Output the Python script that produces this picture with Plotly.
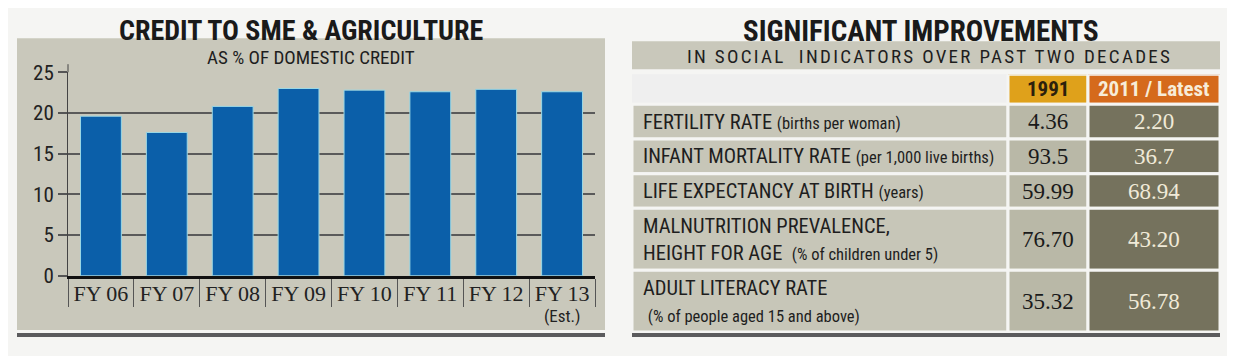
import plotly.graph_objects as go

# ---------------- data ----------------
fiscal_years = ["FY 06", "FY 07", "FY 08", "FY 09", "FY 10", "FY 11", "FY 12", "FY 13"]
credit_share = [19.6, 17.6, 20.8, 23.0, 22.8, 22.6, 22.9, 22.6]
estimated_note = ["", "", "", "", "", "", "", "(Est.)"]
y_ticks = [0, 5, 10, 15, 20, 25]

indicator_names = ["FERTILITY RATE", "INFANT MORTALITY RATE", "LIFE EXPECTANCY AT BIRTH",
                   "MALNUTRITION PREVALENCE,<br>HEIGHT FOR AGE ", "ADULT LITERACY RATE<br>"]
indicator_units = ["(births per woman)", "(per 1,000 live births)", "(years)",
                   "(% of children under 5)", "(% of people aged 15 and above)"]
values_1991 = [4.36, 93.5, 59.99, 76.70, 35.32]
values_latest = [2.20, 36.7, 68.94, 43.20, 56.78]
decimals = [2, 1, 2, 2, 2]
col_headers = ["", "1991", "2011 / Latest"]

# ---------------- styling ----------------
W, H = 1235, 356
COND = "Roboto Condensed"
SERIF = "Liberation Serif, DejaVu Serif, Times New Roman, serif"
BG = "#f5f5f3"
PANEL = "#c9c8bb"
DARK = "#5b5b5d"

# map target picture pixels to figure paper coordinates (measured page offset/scale)
def px_x(v):
    return (v - 8) / W

def px_y(v):
    return 1 - (v / 0.93 - 22.5) / H

fig = go.Figure()

fig.add_trace(go.Bar(
    x=fiscal_years, y=credit_share, width=0.62,
    marker=dict(color="#0b5fa9", line=dict(color="#9ad8e6", width=1)),
    xaxis="x", yaxis="y", hoverinfo="x+y",
))

# ---------------- table geometry (axis units) ----------------
col_widths = [376, 80, 132]
col_edges = [0]
for w in col_widths:
    col_edges.append(col_edges[-1] + w)
HEADER_H = 30
ROW_H = {1: 34.5, 2: 61.5}
row_lines = [n.count("<br>") + 1 for n in indicator_names]
row_edges = [HEADER_H]
for nl in row_lines:
    row_edges.append(row_edges[-1] + ROW_H[nl])
TOTAL_H = row_edges[-1]

fig.add_trace(go.Scatter(x=[0, col_edges[-1]], y=[0, TOTAL_H], mode="markers",
                         marker=dict(opacity=0), xaxis="x2", yaxis="y2", hoverinfo="skip"))

shapes = [
    dict(type="rect", xref="paper", yref="paper", x0=px_x(17), x1=px_x(605), y0=px_y(330), y1=px_y(39),
         fillcolor=PANEL, line=dict(width=0), layer="below"),
    dict(type="rect", xref="paper", yref="paper", x0=px_x(17), x1=px_x(605), y0=px_y(337), y1=px_y(333),
         fillcolor=DARK, line=dict(width=0), layer="below"),
    dict(type="rect", xref="paper", yref="paper", x0=px_x(632), x1=px_x(1220), y0=px_y(70), y1=px_y(42),
         fillcolor=PANEL, line=dict(width=0), layer="below"),
    dict(type="rect", xref="paper", yref="paper", x0=px_x(632), x1=px_x(1220), y0=px_y(337), y1=px_y(333),
         fillcolor=DARK, line=dict(width=0), layer="below"),
    # y axis line extends a little above the top gridline
    dict(type="line", xref="x domain", yref="paper", x0=0, x1=0, y0=px_y(73), y1=px_y(65),
         line=dict(color="#444", width=1)),
]

header_fill = [None, "#dfa11b", "#d56a1c"]
header_color = ["#000", "#2b200c", "#f7ecd8"]
cell_fill = ["#c7c6b8", "#b9b8a7", "#75725d"]

for j in range(3):
    if header_fill[j]:
        shapes.append(dict(type="rect", xref="x2", yref="y2", x0=col_edges[j], x1=col_edges[j + 1],
                           y0=0, y1=HEADER_H, fillcolor=header_fill[j], line=dict(color=BG, width=3),
                           layer="below"))
for i in range(len(indicator_names)):
    for j in range(3):
        shapes.append(dict(type="rect", xref="x2", yref="y2", x0=col_edges[j], x1=col_edges[j + 1],
                           y0=row_edges[i], y1=row_edges[i + 1], fillcolor=cell_fill[j],
                           line=dict(color=BG, width=3), layer="below"))

annotations = [
    dict(text="<b>CREDIT TO SME & AGRICULTURE</b>", x=px_x(301), y=1 - 11.5 / H, xref="paper", yref="paper",
         xanchor="center", yanchor="middle",
         showarrow=False, font=dict(family=COND, size=28, color="#1a1a1a")),
    dict(text="AS % OF DOMESTIC CREDIT", x=px_x(311), y=px_y(57) - 1 / H, xref="paper", yref="paper",
         xanchor="center", yanchor="middle",
         showarrow=False, font=dict(family=COND, size=19, color="#1e1e1e")),
    dict(text="<b>SIGNIFICANT IMPROVEMENTS</b>",
         x=px_x(921), y=1 - 11.5 / H, xref="paper", yref="paper", xanchor="center", yanchor="middle",
         showarrow=False, font=dict(family=COND, size=29, color="#1a1a1a")),
    dict(text="<span style=\"letter-spacing:2.3px\">IN SOCIAL  INDICATORS OVER PAST TWO DECADES</span>",
         x=px_x(929), y=px_y(56) - 1 / H, xref="paper", yref="paper", xanchor="center", yanchor="middle",
         showarrow=False, font=dict(family=COND, size=19, color="#1e1e1e")),
]

for cat, note in zip(fiscal_years, estimated_note):
    if note:
        annotations.append(dict(text=note, xref="x", yref="paper", x=cat, y=px_y(316),
                                xanchor="center", yanchor="middle", showarrow=False,
                                font=dict(family=COND, size=17, color="#222")))

for j in range(1, 3):
    annotations.append(dict(text=f"<b>{col_headers[j]}</b>", xref="x2", yref="y2",
                            x=(col_edges[j] + col_edges[j + 1]) / 2, y=HEADER_H / 2,
                            showarrow=False, font=dict(family=COND, size=21, color=header_color[j])))

for i in range(len(indicator_names)):
    yc = (row_edges[i] + row_edges[i + 1]) / 2
    lab = f"{indicator_names[i]} <span style=\"font-size:16.5px\">{indicator_units[i]}</span>"
    annotations.append(dict(text=lab, xref="x2", yref="y2", x=col_edges[0] + 9, y=yc,
                            xanchor="left", align="left", showarrow=False,
                            font=dict(family=COND, size=20.5, color="#1e1e1e")))
    annotations.append(dict(text=f"{values_1991[i]:.{decimals[i]}f}", xref="x2", yref="y2",
                            x=(col_edges[1] + col_edges[2]) / 2, y=yc, showarrow=False,
                            font=dict(family=SERIF, size=23, color="#1a1a1a")))
    annotations.append(dict(text=f"{values_latest[i]:.{decimals[i]}f}", xref="x2", yref="y2",
                            x=(col_edges[2] + col_edges[3]) / 2, y=yc, showarrow=False,
                            font=dict(family=SERIF, size=23, color="#f0ead8")))

fig.update_layout(
    width=W, height=H, margin=dict(l=0, r=0, t=0, b=0),
    paper_bgcolor=BG, plot_bgcolor="#efefef",
    showlegend=False,
    shapes=shapes, annotations=annotations,
    xaxis=dict(
        domain=[px_x(68), px_x(595)], type="category", range=[-0.5, 7.5],
        tickmode="array", tickvals=fiscal_years, ticktext=fiscal_years,
        tickson="boundaries", ticks="outside", ticklen=28, tickcolor="#555", tickwidth=1,
        ticklabelstandoff=-4,
        showgrid=False, showline=True, linecolor="#111", linewidth=2.5,
        tickfont=dict(family=SERIF, size=22, color="#222"), fixedrange=True,
    ),
    yaxis=dict(
        domain=[px_y(276), px_y(73)], range=[0, 25],
        tickmode="array", tickvals=y_ticks,
        ticks="outside", ticklen=9, tickcolor="#555", tickwidth=1.5,
        showgrid=True, gridcolor="#5a5a5a", gridwidth=1.5, zeroline=False,
        showline=True, linecolor="#444", linewidth=1,
        tickfont=dict(family=COND, size=21, color="#222"), fixedrange=True,
    ),
    xaxis2=dict(domain=[px_x(632), px_x(1220)], range=[0, col_edges[-1]], visible=False, fixedrange=True),
    yaxis2=dict(domain=[px_y(332), px_y(75)], range=[TOTAL_H, 0], visible=False, fixedrange=True),
)

fig.write_html("out.html")
